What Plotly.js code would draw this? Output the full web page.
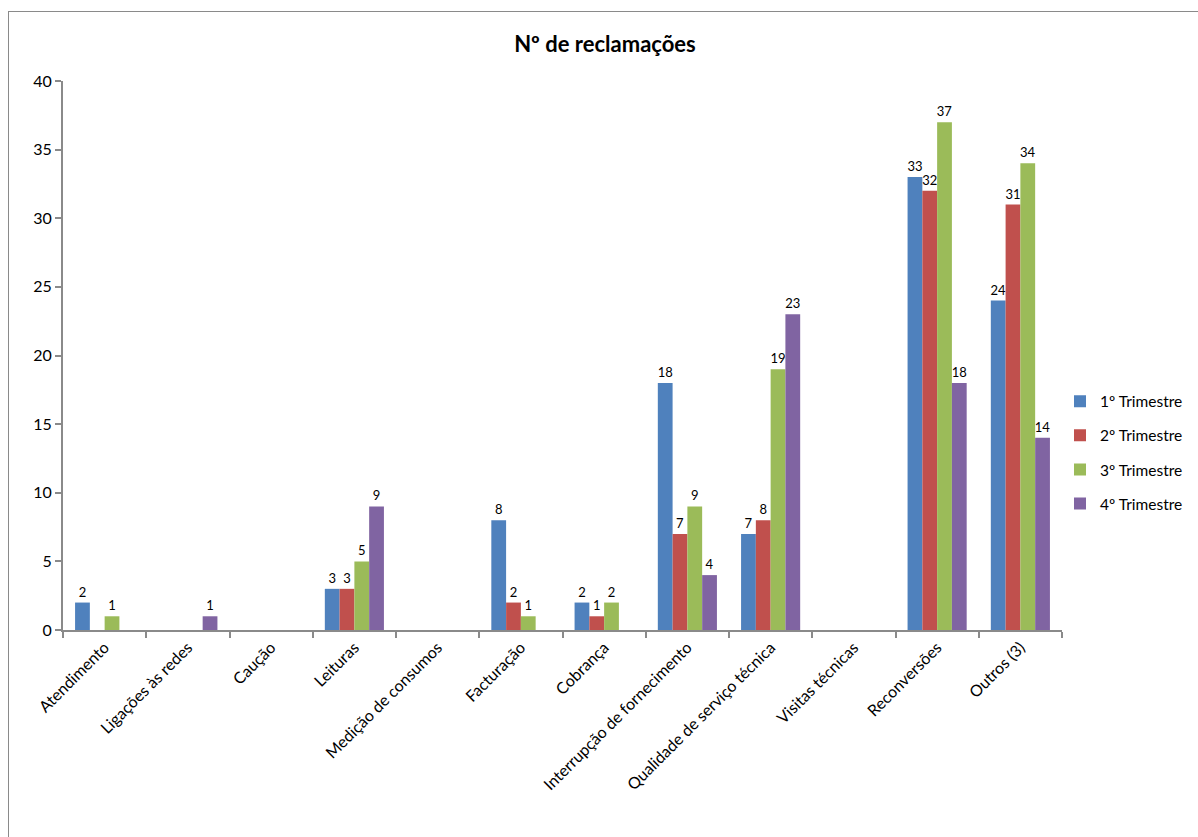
<!DOCTYPE html>
<html><head><meta charset="utf-8">
<script src="https://cdn.plot.ly/plotly-3.0.1.min.js"></script>
<style>
html,body{margin:0;padding:0;background:#fff;overflow:hidden;}
#frame{position:absolute;left:8px;top:11px;width:1300px;height:900px;border:1px solid #8a8a8a;box-sizing:border-box;pointer-events:none;}
#chart{position:absolute;left:0;top:0;width:1198px;height:837px;}
</style></head>
<body>
<div id="chart"></div>
<div id="frame"></div>
<script>
const categories = ["Atendimento","Ligações às redes","Caução","Leituras","Medição de consumos","Facturação","Cobrança","Interrupção de fornecimento","Qualidade de serviço técnica","Visitas técnicas","Reconversões","Outros (3)"];
const seriesNames = ["1º Trimestre","2º Trimestre","3º Trimestre","4º Trimestre"];
const t1 = [2,0,0,3,0,8,2,18,7,0,33,24];
const t2 = [0,0,0,3,0,2,1,7,8,0,32,31];
const t3 = [1,0,0,5,0,1,2,9,19,0,37,34];
const t4 = [0,1,0,9,0,0,0,4,23,0,18,14];
const colors = ["#4F81BD","#C0504D","#9BBB59","#8064A2"];
const allSeries = [t1,t2,t3,t4];

const font = "Lato, 'Noto Sans', 'DejaVu Sans', sans-serif";
const traces = allSeries.map((vals,i)=>({
  type:'bar',
  name: seriesNames[i],
  x: categories,
  y: vals,
  marker:{color:colors[i]},
  text: vals.map(v=> v===0 ? '' : String(v)),
  textposition:'outside',
  constraintext:'none',
  textfont:{family:font,size:13,color:'#000'},
  cliponaxis:false,
  legendgroup:'g'+i,
  hoverinfo:'none'
}));

const layout = {
  width:1198, height:837,
  paper_bgcolor:'rgba(0,0,0,0)', plot_bgcolor:'rgba(0,0,0,0)',
  margin:{l:63,r:136,t:81,b:207,autoexpand:false},
  title:{text:'<b>Nº de reclamações</b>', x:0.505, xanchor:'center', y:0.947, yanchor:'middle',
         font:{family:font,size:22,color:'#000'}},
  barmode:'group',
  bargap:0.29,
  bargroupgap:0,
  showlegend:true,
  legend:{x:0.998,xanchor:'left',y:0.447,yanchor:'top',traceorder:'grouped',tracegroupgap:11,
          font:{family:font,size:15.5,color:'#000'},itemwidth:30},
  xaxis:{type:'category', tickangle:-45, showline:true, linecolor:'#8a8a8a', linewidth:2,
         ticks:'outside', tickson:'boundaries', ticklen:6, tickcolor:'#8a8a8a', tickwidth:2,
         tickfont:{family:font,size:16,color:'#000'}, showgrid:false, zeroline:false, fixedrange:true},
  yaxis:{range:[0,40], dtick:5, tick0:0, showline:true, linecolor:'#8a8a8a', linewidth:2,
         ticks:'outside', ticklen:6, tickcolor:'#8a8a8a', tickwidth:2,
         tickfont:{family:font,size:16,color:'#000'}, showgrid:false, zeroline:false, fixedrange:true}
};
Plotly.newPlot('chart', traces, layout, {displayModeBar:false, staticPlot:true});
</script>
</body></html>
